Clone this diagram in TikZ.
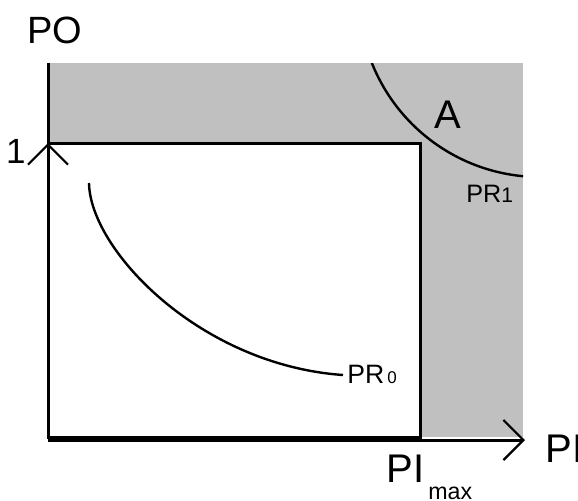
\documentclass[tikz,border=0pt]{standalone}
\usepackage{fontspec}
\setmainfont{Liberation Sans}
\usetikzlibrary{arrows.meta}
\usepackage{xcolor}
\definecolor{RegF}{HTML}{C0C0C0}
\definecolor{LinD}{HTML}{000000}
\tikzset{
  LBL/.style={
    inner sep=0pt, anchor=base west, text=LinD,
    font=\fontsize{#1}{#1}\selectfont
  },
  AXS/.style={line width=1.5pt, color=LinD},
  CRV/.style={line width=1.2pt, color=LinD},
  TIP/.style={
    -{Straight Barb[length=10pt,width=20pt,line width=1.1pt]}
  },
}
\newcommand{\sub}[2]{{\fontsize{#1}{#1}\selectfont #2}}

\begin{document}
\begin{tikzpicture}[x=0.5pt,y=0.5pt]
\useasboundingbox (0,0) rectangle (578,500);

%================ REGIONS =================
\coordinate (org)  at (48,63);
\coordinate (ytip) at (48,357);
\coordinate (xtip) at (525,60);
\coordinate (ytop) at (48,437);

\fill[RegF] (48,63) rectangle (523,437);
\fill[white] (48,63) rectangle (420,357);
\draw[AXS] (48,63) rectangle (420,357);

%================ CURVES =================
\begin{scope}
\clip (48,63) rectangle (523,437);
\draw[CRV] (540,504) ++(201.7:181) arc[start angle=201.7,end angle=270,radius=181];
\end{scope}

\draw[CRV] (89,317) .. controls (90,250) and (200,135) .. (343,125);

%================ AXES =================
\draw[AXS,TIP] (org) -- (ytip);
\draw[AXS] (ytip) -- (ytop);
\draw[AXS,TIP] (48,60) -- (xtip);

%================ LABELS =================
\node[LBL=19] (po) at (27,457) {PO};
\node[LBL=17.5,anchor=base east] (one) at (26,337) {1};
\node[LBL=20] (lA) at (434,372) {A};
\node[LBL=12.6] (pr1) at (466,298) {PR\sub{10.5}{1}};
\node[LBL=13.3] (pr0) at (347,117) {PR\hspace{1.5pt}\sub{8.5}{0}};
\node[LBL=20] (pi) at (545,38) {PI};
\node[LBL=20] (pimax) at (386,18) {PI};
\node[LBL=11.6] (max) at (428,1) {max};

\end{tikzpicture}
\end{document}
